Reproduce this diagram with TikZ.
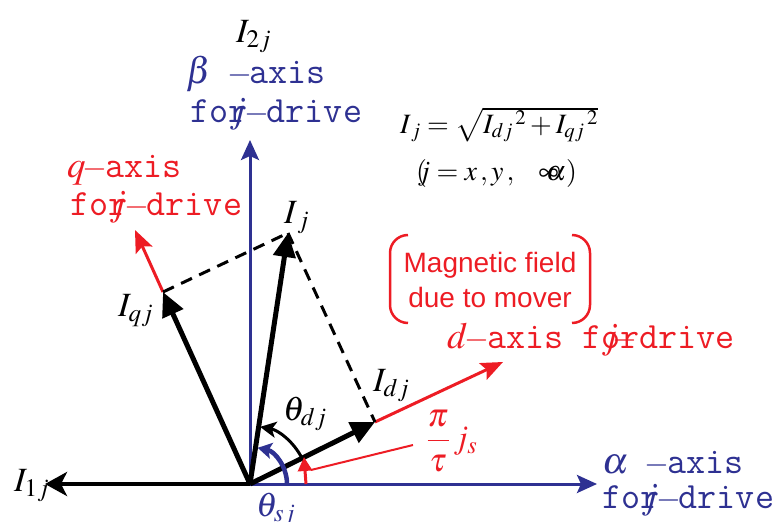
\documentclass[tikz,border=0pt]{standalone}
\usepackage{mathptmx}
\usepackage{fontspec}
\setmainfont{Liberation Serif}
\setsansfont{Liberation Sans}
\usetikzlibrary{arrows.meta}
\definecolor{axblue}{RGB}{46,49,146}
\definecolor{axred}{RGB}{237,28,36}
\newcommand{\axdash}{\makebox[0.525em]{\fontsize{32}{32}\selectfont$-$}}
\tikzset{
  vec/.style={line width=5pt, -{Triangle[length=24pt,width=22pt]}},
  axb/.style={draw=axblue, line width=3pt, -{Stealth[length=20pt,width=18pt,inset=4pt]}},
  axr/.style={draw=axred, line width=3pt, -{Stealth[length=22pt,width=18pt,inset=4pt]}},
  lbl/.style={inner sep=0pt, anchor=base west, font=\fontsize{34}{40}\selectfont},
  mono/.style={inner sep=0pt, anchor=base west, font=\fontsize{37}{42}\selectfont\ttfamily},
  proj/.style={line width=3pt, dash pattern=on 12pt off 8pt},
  brk/.style={draw=axred, line width=2.5pt},
}
\begin{document}
\begin{tikzpicture}[x=1pt,y=-1pt]
\useasboundingbox (0,0) rectangle (779,522);
% points
\coordinate (O) at (250,484);
\coordinate (Iq) at (163,292);
\coordinate (Ij) at (288,233);
\coordinate (Id) at (375,422);
\coordinate (qtip) at (135,230);
\coordinate (dtip) at (503,362);
\coordinate (atip) at (597,484);
\coordinate (btip) at (250,140);
\coordinate (ltip) at (45,484);
\coordinate (pl) at (413,445);
\coordinate (ps) at (311,470);
\coordinate (rb) at (306,484);
\coordinate (rt) at (304,457);
% axes
\draw[axb] (O) -- (atip);
\draw[axb] (O) -- (btip);
\draw[line width=4pt, -{Stealth[length=22pt,width=24pt,inset=6pt]}] (O) -- (ltip);
% red axes
\draw[axr] (Iq) -- (qtip);
\draw[axr] (Id) -- (dtip);
% dashed projections
\draw[proj] (Iq) -- (Ij);
\draw[proj] (Ij) -- (Id);
% vectors
\draw[vec] (O) -- (Iq);
\draw[vec] (O) -- (Ij);
\draw[vec] (O) -- (Id);
% angle arcs
\draw[line width=3pt, -{Stealth[length=16pt,width=16pt,inset=4pt]}] ([shift={(-26.4:58)}]O) arc[start angle=-26.4,end angle=-80,radius=58];
\draw[draw=axblue, line width=4.5pt, -{Stealth[length=14pt,width=16pt,inset=3pt,color=axblue]}] ([shift={(0:37)}]O) arc[start angle=0,end angle=-78,radius=37];
% red small arrow and pointer
\draw[draw=axred, line width=3pt, -{Triangle[length=14pt,width=14pt,color=axred]}] (rb) -- (rt);
\draw[draw=axred, line width=2pt] (pl) -- (ps);
% magnetic field bracket box
\draw[brk] (408,235) arc[start angle=-90,end angle=-180,radius=18] -- (390,305) arc[start angle=180,end angle=90,radius=18];
\draw[brk] (572,235) arc[start angle=-90,end angle=0,radius=18] -- (590,305) arc[start angle=0,end angle=90,radius=18];
\node[inner sep=0pt, text=axred, align=center, font=\fontsize{28}{35}\selectfont\sffamily] (mf) at (490,280) {Magnetic field\\due to mover};
% labels
\node[lbl] (l2) at (236,42) {$I_{2j}$};
\node[lbl] (l1) at (14,491) {$I_{1j}$};
\node[lbl] (lq) at (118,316) {$I_{qj}$};
\node[lbl] (lj) at (284,223) {$I_{\,j}$};
\node[lbl] (ld) at (373,391) {$I_{dj}$};
\node[lbl] (thd) at (283,420) {$\theta_{dj}$};
\node[lbl, text=axblue] (ths) at (256,516) {$\theta_{sj}$};
\node[inner sep=0pt, text=axred, font=\fontsize{33}{38}\selectfont\boldmath] (pt) at (452,441) {$\displaystyle\frac{\pi}{\tau}\,j_s$};
% axis texts
\node[mono, text=axblue] (bt1) at (186,83) {$\beta$ \axdash axis};
\node[mono, text=axblue] (bt2) at (190,122) {fo\rlap{\hspace{1pt}$j$}r\axdash drive};
\node[mono, text=axblue] (at1) at (602,473) {$\alpha$ \axdash axis};
\node[mono, text=axblue] (at2) at (602,508) {fo\rlap{\hspace{1pt}$j$}r\axdash drive};
\node[mono, text=axred] (qt1) at (67,177) {$q$\axdash axis};
\node[mono, text=axred] (qt2) at (70,215) {fo\rlap{\hspace{1pt}$j$}r\axdash drive};
\node[mono, text=axred] (dt1) at (447,348) {$d$\axdash axis f\rlap{$j$\kern-3pt\axdash}ordrive};
% formula
\node[inner sep=0pt, anchor=base west, font=\fontsize{28}{32}\selectfont] (f1) at (400,133) {$I_{\,j} = \sqrt{I_{dj}{}^{\,2} + I_{qj}{}^{\,2}}$};
\node[inner sep=0pt, anchor=base west, font=\fontsize{28}{32}\selectfont] (f2) at (416,180) {$(\mkern-6mu j = x\,,y\,,\ \ \ \infty\mkern-8mu\alpha)$};
\end{tikzpicture}
\end{document}
